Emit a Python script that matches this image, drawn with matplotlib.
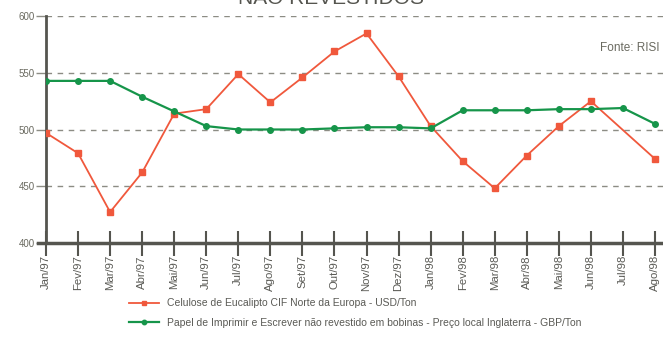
import numpy as np
import matplotlib.pyplot as plt

plt.rcParams['font.family'] = ['Liberation Sans Narrow', 'Liberation Sans', 'DejaVu Sans']

meses = ['Jan/97', 'Fev/97', 'Mar/97', 'Abr/97', 'Mai/97', 'Jun/97', 'Jul/97',
         'Ago/97', 'Set/97', 'Out/97', 'Nov/97', 'Dez/97', 'Jan/98', 'Fev/98',
         'Mar/98', 'Abr/98', 'Mai/98', 'Jun/98', 'Jul/98', 'Ago/98']

# Celulose (USD/Ton) - sem dado em Jul/98
celulose = [497, 479, 427, 462, 514, 518, 549, 524, 546, 569, 585, 547, 503,
            472, 448, 477, 503, 525, np.nan, 474]
# Papel não revestido (GBP/Ton)
papel = [543, 543, 543, 529, 516, 503, 500, 500, 500, 501, 502, 502, 501,
         517, 517, 517, 518, 518, 519, 505]

serie_cel = 'Celulose de Eucalipto CIF Norte da Europa - USD/Ton'
serie_pap = 'Papel de Imprimir e Escrever não revestido em bobinas - Preço local Inglaterra - GBP/Ton'

vermelho = '#f0583c'
verde = '#16954a'
cinza = '#55554f'

fig = plt.figure(figsize=(6.63, 3.5), dpi=100)
ax = fig.add_axes([46 / 663, 0.307, 1 - 46 / 663, 0.646])

x = np.arange(len(meses))
cel = np.array(celulose, dtype=float)
ok = ~np.isnan(cel)
ax.plot(x[ok], cel[ok], color=vermelho, lw=1.3, marker='s', ms=4, zorder=3)
ax.plot(x, papel, color=verde, lw=1.6, marker='o', ms=4, zorder=4)

ax.set_xlim(0, 19.25)
ax.set_ylim(400, 600)

# grade tracejada
for v in [450, 500, 550, 600]:
    ax.axhline(v, color='#8c8c84', lw=1.0, ls=(0, (4, 4)), zorder=1)

ax.set_yticks([400, 450, 500, 550, 600])
ax.tick_params(axis='y', length=7, width=1, color='#8c8c84', labelsize=7,
               labelcolor='#6a6a60', pad=1)
ax.set_xticks(x)
ax.set_xticklabels(meses, rotation=90, fontsize=8.2, color='#5a5a55')
ax.tick_params(axis='x', direction='inout', length=18, width=1.5, color=cinza,
               pad=0)

for s in ['top', 'right']:
    ax.spines[s].set_visible(False)
ax.spines['left'].set_color(cinza)
ax.spines['left'].set_linewidth(2)
ax.spines['bottom'].set_color(cinza)
ax.spines['bottom'].set_linewidth(2.5)
ax.spines['bottom'].set_bounds(-0.25, 19.25)
ax.spines['bottom'].set_clip_on(False)

ax.text(0.995, 0.86, 'Fonte: RISI', transform=ax.transAxes, ha='right',
        va='center', fontsize=8.5, color='#6a6a60')

# título (cortado no topo)
fig.text(0.5, 0.988, 'NÃO REVESTIDOS', ha='center', va='baseline',
         fontsize=15, color='#55554f')

# legenda
fig.legend(handles=[ax.lines[0], ax.lines[1]], labels=[serie_cel, serie_pap],
           loc='upper left', bbox_to_anchor=(120 / 663, 1 - 289 / 350),
           frameon=False, fontsize=7.5, labelcolor='#5a5a55',
           handlelength=2.8, labelspacing=0.9, markerscale=0.8)

fig.savefig('out.png', dpi=100)
